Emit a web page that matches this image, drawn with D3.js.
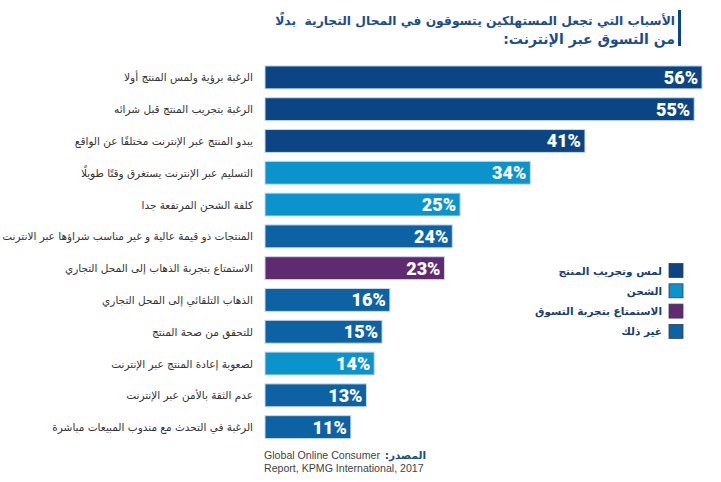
<!DOCTYPE html>
<html><head><meta charset="utf-8">
<script src="https://cdn.jsdelivr.net/npm/d3@7"></script>
<style>
html,body{margin:0;padding:0;background:#fff;}
svg{display:block;}
</style></head>
<body>
<script>
const categories = [
  "الرغبة برؤية ولمس المنتج أولا",
  "الرغبة بتجريب المنتج قبل شرائه",
  "يبدو المنتج عبر الإنترنت مختلفًا عن الواقع",
  "التسليم عبر الإنترنت يستغرق وقتًا طويلًا",
  "كلفة الشحن المرتفعة جدا",
  "المنتجات ذو قيمة عالية و غير مناسب شراؤها عبر الانترنت",
  "الاستمتاع بتجربة الذهاب إلى المحل التجاري",
  "الذهاب التلقائي إلى المحل التجاري",
  "للتحقق من صحة المنتج",
  "لصعوبة إعادة المنتج عبر الإنترنت",
  "عدم الثقة بالأمن عبر الإنترنت",
  "الرغبة في التحدث مع مندوب المبيعات مباشرة"
];
const values = [56, 55, 41, 34, 25, 24, 23, 16, 15, 14, 13, 11];
const groups = [0, 0, 0, 1, 1, 3, 2, 3, 3, 1, 3, 3];
const legendLabels = ["لمس وتجريب المنتج", "الشحن", "الاستمتاع بتجربة التسوق", "غير ذلك"];
const groupColors = ["#0b4583", "#0a94cb", "#5f2a6f", "#0c62a2"];
const titleLines = ["الأسباب التي تجعل المستهلكين يتسوقون في المحال التجارية \u00a0بدلًا", "من التسوق عبر الإنترنت:"];
const sourceLabel = "المصدر:";
const sourceLines = ["Global Online Consumer", "Report, KPMG International, 2017"];

const W = 721, H = 482;
const svg = d3.select("body").append("svg").attr("width", W).attr("height", H);

const x = d3.scaleLinear().domain([0, 56]).range([265, 702]);
const y = d3.scaleBand().domain(categories).range([61.5, 443]).paddingInner(0.28).paddingOuter(0.14);

// title
svg.append("rect").attr("x", 678).attr("y", 10).attr("width", 3).attr("height", 36).attr("fill", "#0b4583");
svg.selectAll("text.title").data(titleLines).join("text")
  .attr("class", "title")
  .attr("x", 675).attr("y", (d, i) => 25 + i * 19)
  .attr("direction", "rtl").attr("text-anchor", "start")
  .attr("font-family", "DejaVu Sans").attr("font-weight", "bold").attr("font-size", (d, i) => i === 0 ? 12.3 : 14)
  .attr("fill", "#1b4d8a").text(d => d);

// bars
const rows = categories.map((c, i) => ({c, v: values[i], g: groups[i]}));
svg.selectAll("rect.bar").data(rows).join("rect")
  .attr("class", "bar")
  .attr("x", x(0)).attr("y", d => y(d.c))
  .attr("width", d => x(d.v) - x(0)).attr("height", y.bandwidth())
  .attr("fill", d => groupColors[d.g])
  .attr("stroke", "#c9d8ea").attr("stroke-width", 1);

svg.selectAll("text.val").data(rows).join("text")
  .attr("class", "val")
  .attr("x", d => x(d.v) - 4).attr("y", d => y(d.c) + y.bandwidth() / 2 + 6.5)
  .attr("text-anchor", "end")
  .attr("font-family", "Roboto").attr("font-weight", "900").attr("font-size", 18)
  .attr("fill", "#fff").text(d => d.v + "%");

// category labels
svg.selectAll("text.cat").data(rows).join("text")
  .attr("class", "cat")
  .attr("x", 253).attr("y", d => y(d.c) + y.bandwidth() / 2 + 4)
  .attr("direction", "rtl").attr("text-anchor", "start")
  .attr("font-family", "DejaVu Sans").attr("font-size", 10.5)
  .attr("fill", "#333").text(d => d.c);

// legend
const lg = svg.append("g");
legendLabels.forEach((l, i) => {
  const cy = 270.5 + i * 20.3;
  lg.append("rect").attr("x", 669).attr("y", cy - 7).attr("width", 14).attr("height", 14)
    .attr("fill", groupColors[i]).attr("stroke", "#3a3a5a").attr("stroke-width", 0.8);
  lg.append("text").attr("x", 662).attr("y", cy + 4)
    .attr("direction", "rtl").attr("text-anchor", "start")
    .attr("font-family", "DejaVu Sans").attr("font-weight", "bold").attr("font-size", 10.5)
    .attr("fill", "#1b3f73").text(l);
});

// source
svg.append("text").attr("x", 426).attr("y", 459)
  .attr("direction", "rtl").attr("text-anchor", "start")
  .attr("font-family", "DejaVu Sans").attr("font-weight", "bold").attr("font-size", 10.5)
  .attr("fill", "#1b4d8a").text(sourceLabel);
svg.selectAll("text.src").data(sourceLines).join("text")
  .attr("class", "src")
  .attr("x", 264).attr("y", (d, i) => 459 + i * 13)
  .attr("font-family", "Liberation Sans").attr("font-size", 10.6)
  .attr("fill", "#444").text(d => d);
</script>
</body></html>
